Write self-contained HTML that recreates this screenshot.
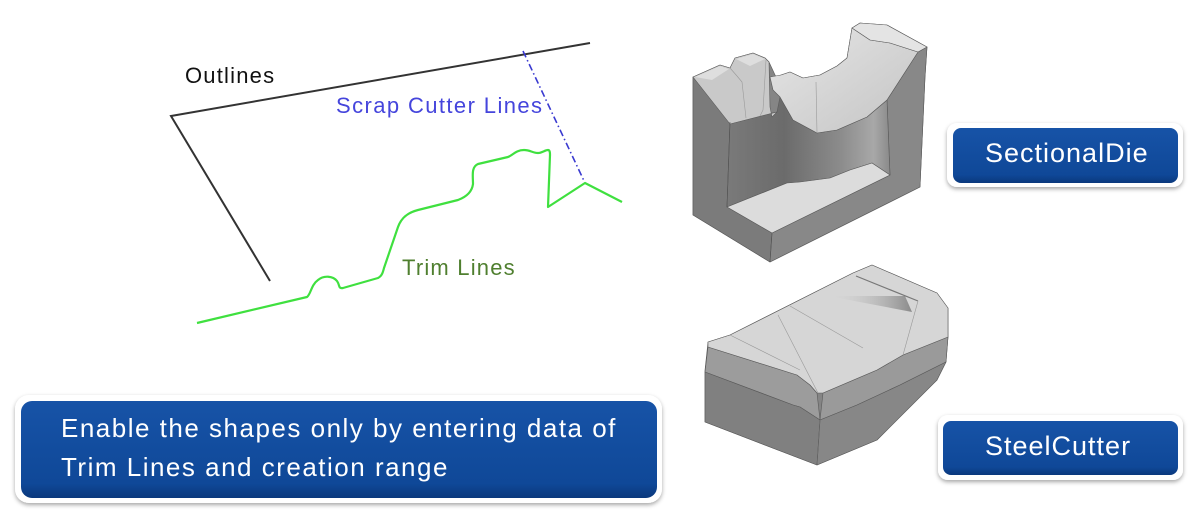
<!DOCTYPE html>
<html><head><meta charset="utf-8"><style>
html,body{margin:0;padding:0;background:#fff;}
svg{display:block;}
</style></head><body>
<svg width="1197" height="523" viewBox="0 0 1197 523" xmlns="http://www.w3.org/2000/svg">
<defs>
<filter id="sh" x="-10%" y="-20%" width="120%" height="150%">
<feDropShadow dx="0" dy="2" stdDeviation="2" flood-color="#000" flood-opacity="0.35"/>
</filter>
<linearGradient id="blue" x1="0" y1="0" x2="0" y2="1">
<stop offset="0" stop-color="#1753a7"/>
<stop offset="0.85" stop-color="#0f4898"/>
<stop offset="1" stop-color="#0a387c"/>
</linearGradient>
<linearGradient id="wall" x1="0" y1="0" x2="1" y2="0">
<stop offset="0" stop-color="#7a7a7a"/>
<stop offset="0.35" stop-color="#6b6b6b"/>
<stop offset="0.7" stop-color="#8c8c8c"/>
<stop offset="0.9" stop-color="#a8a8a8"/>
<stop offset="1" stop-color="#8a8a8a"/>
</linearGradient>
<linearGradient id="inner" x1="0" y1="0" x2="1" y2="1">
<stop offset="0" stop-color="#e6e6e6"/>
<stop offset="1" stop-color="#c4c4c4"/>
</linearGradient>
<linearGradient id="streak" x1="0" y1="0" x2="1" y2="0">
<stop offset="0" stop-color="#d6d6d6" stop-opacity="0"/>
<stop offset="1" stop-color="#8a8a8a"/>
</linearGradient>
</defs>

<!-- Diagram lines -->
<polyline points="590,43 171,116 270,281" fill="none" stroke="#333" stroke-width="2"/>
<line x1="523" y1="51" x2="585" y2="183" stroke="#3a3ad0" stroke-width="1.6" stroke-dasharray="7 3 1.5 3"/>
<path d="M197,323 L307,297 C311,294 311,285 318,280 C324,275 333,276 337,281 C340,285 338,289 343,288 L378,278 C382,276 383,272 384,268 L398,227 C402,216 410,212 418,210 L458,200 C466,197 472,192 473,184 C473,176 471,167 478,164 L508,157 C513,155 516,150 524,150 C530,150 533,153 538,153 C542,153 545,150 548,150 C550,150 550,153 550,155 L548,207 L585,183 L622,202" fill="none" stroke="#3fe03f" stroke-width="2.2" stroke-linejoin="round"/>

<text x="185" y="83" font-family="Liberation Sans, sans-serif" font-size="22" letter-spacing="1.2" fill="#111">Outlines</text>
<text x="336" y="113" font-family="Liberation Sans, sans-serif" font-size="22" letter-spacing="1.4" fill="#4545dc">Scrap Cutter Lines</text>
<text x="402" y="275" font-family="Liberation Sans, sans-serif" font-size="22" letter-spacing="1.2" fill="#4f7f2f">Trim Lines</text>

<!-- SectionalDie 3D shape -->
<g stroke="#5a5a5a" stroke-width="0.6" stroke-linejoin="round">
<polygon fill="#858585" points="693,77 720,65 730,68 735,58 753,53 765,58 769,62 776,77 781,75 790,72 803,78 820,75 837,66 847,58 852,28 860,23 887,25 927,47 925,77 920,187 770,262 693,215"/>
<polygon fill="#7b7b7b" points="693,77 730,121 727,207 772,233 770,262 693,215"/>
<polygon fill="#888888" points="772,233 890,175 887,100 918,52 927,47 925,77 920,187 770,262"/>
<polygon fill="url(#wall)" points="730,122 777,112 780,97 793,120 817,133 837,130 867,117 887,100 890,175 872,163 850,170 830,178 800,182 787,183 727,207"/>
<polygon fill="#dcdcdc" points="727,207 787,183 800,182 830,178 850,170 872,163 890,175 772,233"/>
<polygon fill="#c9c9c9" points="693,77 720,65 730,68 735,58 753,53 765,58 769,62 770,107 772,117 777,112 730,124"/>
<polygon fill="#dedede" stroke="none" points="695,77 720,66 729,69 712,80"/>
<polygon fill="#dedede" stroke="none" points="736,59 753,54 765,59 750,66"/>
<polyline fill="none" points="730,68 737,76 742,82 746,118" stroke="#9a9a9a"/>
<polyline fill="none" points="766,60 763,110 760,116" stroke="#9a9a9a"/>
<polygon fill="url(#inner)" points="770,77 781,75 790,72 803,78 820,75 837,66 847,58 852,28 870,40 890,43 918,52 887,100 867,117 837,130 817,133 793,120 780,97 773,90"/>
<polygon fill="#e4e4e4" points="852,28 860,23 887,25 927,47 918,52 890,43 870,40"/>
<line x1="817" y1="133" x2="816" y2="82" stroke="#9a9a9a"/>
<line x1="727" y1="207" x2="730" y2="122" stroke="#555"/>
<line x1="772" y1="233" x2="770" y2="262" stroke="#555"/>
</g>

<!-- SteelCutter 3D shape -->
<g stroke="#5a5a5a" stroke-width="0.6" stroke-linejoin="round">
<polygon fill="#858585" points="708,342 730,335 853,273 872,265 923,287 937,293 948,308 948,337 946,362 937,380 877,440 817,465 705,422 705,370"/>
<polygon fill="#9c9c9c" points="708,347 797,375 810,385 817,393 820,420 800,407 793,405 705,372"/>
<polygon fill="#9a9a9a" points="823,393 877,370 903,355 948,337 946,362 900,385 857,405 820,420"/>
<polygon fill="#808080" points="705,372 793,405 800,407 820,420 817,465 705,422"/>
<polygon fill="#878787" points="820,420 857,405 900,385 946,362 937,380 877,440 817,465"/>
<polygon fill="#d6d6d6" points="708,342 730,335 853,273 872,265 923,287 937,293 948,308 948,337 903,355 877,370 823,393 817,393 810,385 797,375 708,347"/>
<polygon fill="url(#streak)" stroke="none" points="828,296 905,296 912,312"/>
<line x1="856" y1="276" x2="918" y2="301" stroke="#777" stroke-width="1.2"/>
<line x1="730" y1="335" x2="800" y2="370" stroke="#9a9a9a"/>
<line x1="778" y1="315" x2="818" y2="393" stroke="#9a9a9a"/>
<line x1="790" y1="306" x2="863" y2="348" stroke="#9a9a9a"/>
<line x1="918" y1="301" x2="903" y2="355" stroke="#9a9a9a"/>
<line x1="820" y1="420" x2="817" y2="465" stroke="#666"/>
</g>

<!-- Boxes -->
<g filter="url(#sh)">
<rect x="15" y="395" width="647" height="108" rx="14" fill="#fff"/>
<rect x="947" y="123" width="236" height="64" rx="10" fill="#fff"/>
<rect x="938" y="415" width="245" height="65" rx="10" fill="#fff"/>
</g>
<rect x="21" y="401" width="636" height="97" rx="11" fill="url(#blue)"/>
<rect x="953" y="128" width="225" height="55" rx="8" fill="url(#blue)"/>
<rect x="943" y="421" width="235" height="54" rx="8" fill="url(#blue)"/>

<text x="61" y="437" font-family="Liberation Sans, sans-serif" font-size="26" letter-spacing="1.5" fill="#fff">Enable the shapes only by entering data of</text>
<text x="61" y="476" font-family="Liberation Sans, sans-serif" font-size="26" letter-spacing="1.5" fill="#fff">Trim Lines and creation range</text>
<text x="985" y="162" font-family="Liberation Sans, sans-serif" font-size="27" letter-spacing="1" fill="#fff">SectionalDie</text>
<text x="985" y="455" font-family="Liberation Sans, sans-serif" font-size="27" letter-spacing="1" fill="#fff">SteelCutter</text>
</svg>
</body></html>
